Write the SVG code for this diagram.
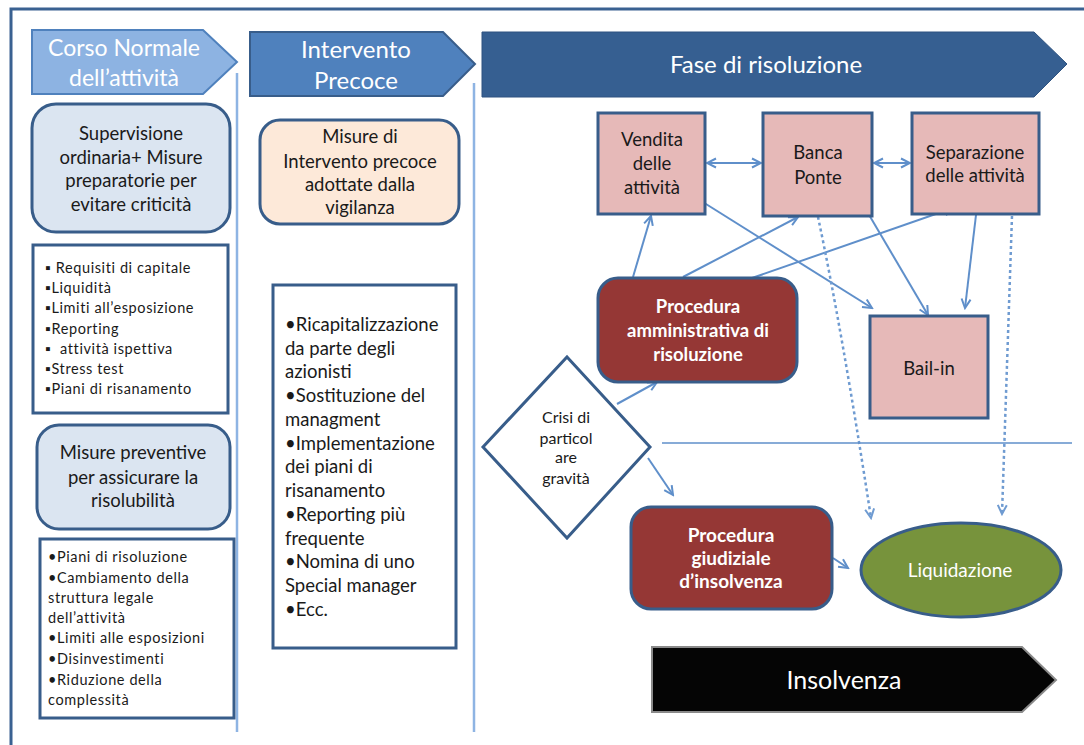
<svg xmlns="http://www.w3.org/2000/svg" width="1084" height="745" viewBox="0 0 1084 745">
<defs>
<style>
text{font-family:Lato,"Liberation Sans",sans-serif;fill:#1a1a1a}
.w{fill:#ffffff}
.c{text-anchor:middle}
.t17{font-size:18.5px}
.t13{font-size:14.5px;letter-spacing:0.6px}
.box{stroke:#385d8a;stroke-width:3}
.blue{fill:#dbe5f1}
.pink{fill:#e6b9b8}
.red{fill:#953735}
.conn{stroke:#5f8fca;stroke-width:2;fill:none}
.dot{stroke:#6f9bd1;stroke-width:2.5;fill:none;stroke-dasharray:3 3}
.sep{stroke:#8eb4e3;stroke-width:2.5;fill:none}
</style>
<marker id="ah" viewBox="0 0 12 12" markerWidth="12" markerHeight="12" refX="10" refY="6" orient="auto-start-reverse" markerUnits="userSpaceOnUse">
<path d="M1,1.5 L10,6 L1,10.5" fill="none" stroke="#5f8fca" stroke-width="2"/>
</marker>
<marker id="ahd" viewBox="0 0 12 12" markerWidth="12" markerHeight="12" refX="10" refY="6" orient="auto" markerUnits="userSpaceOnUse">
<path d="M1,1.5 L10,6 L1,10.5" fill="none" stroke="#6f9bd1" stroke-width="2"/>
</marker>
</defs>
<rect width="1084" height="745" fill="#ffffff"/>
<path d="M11,745 V9 H1084" fill="none" stroke="#3a6191" stroke-width="3"/>
<line class="sep" x1="237" y1="73" x2="237" y2="732"/>
<line class="sep" x1="474" y1="83" x2="474" y2="732"/>

<g id="hdr-corso">
<path d="M32,30 H203 L237,62 L203,94 H32 Z" fill="#8db3e2" stroke="#4f81bd" stroke-width="2"/>
<text class="w c" x="124" y="56" font-size="23">Corso Normale</text>
<text class="w c" x="124" y="86" font-size="23">dell’attività</text>
</g>
<g id="hdr-intervento">
<path d="M250,32 H443 L475,64 L443,96 H250 Z" fill="#4f81bd" stroke="#385d8a" stroke-width="2"/>
<text class="w c" x="356" y="58" font-size="24">Intervento</text>
<text class="w c" x="356" y="89" font-size="24">Precoce</text>
</g>
<g id="hdr-fase">
<path d="M482,32 H1034 L1067,64 L1034,97 H482 Z" fill="#365f91" stroke="#2f5380" stroke-width="1"/>
<text class="w c" x="766" y="73" font-size="24">Fase di risoluzione</text>
</g>

<g id="supervisione">
<rect class="box blue" x="32" y="104" width="198" height="128" rx="24"/>
<text class="c t17" x="131" y="140">Supervisione</text>
<text class="c t17" x="131" y="164">ordinaria+ Misure</text>
<text class="c t17" x="131" y="187">preparatorie per</text>
<text class="c t17" x="131" y="211">evitare criticità</text>
</g>
<g id="requisiti">
<rect class="box" x="33" y="245" width="195" height="168" fill="#ffffff"/>
<text class="t13" x="45" y="273">▪ Requisiti di capitale</text>
<text class="t13" x="45" y="293">▪Liquidità</text>
<text class="t13" x="45" y="313">▪Limiti all’esposizione</text>
<text class="t13" x="45" y="334">▪Reporting</text>
<text class="t13" x="45" y="354" xml:space="preserve">▪  attività ispettiva</text>
<text class="t13" x="45" y="374">▪Stress test</text>
<text class="t13" x="45" y="394">▪Piani di risanamento</text>
</g>
<g id="preventive">
<rect class="box blue" x="37" y="425" width="193" height="104" rx="22"/>
<text class="c t17" x="133" y="459">Misure preventive</text>
<text class="c t17" x="133" y="484">per assicurare la</text>
<text class="c t17" x="133" y="507">risolubilità</text>
</g>
<g id="piani">
<rect class="box" x="40" y="539" width="194" height="179" fill="#ffffff"/>
<text class="t13" x="48" y="562">•Piani di risoluzione</text>
<text class="t13" x="48" y="583">•Cambiamento della</text>
<text class="t13" x="48" y="603">struttura legale</text>
<text class="t13" x="48" y="623">dell’attività</text>
<text class="t13" x="48" y="643">•Limiti alle esposizioni</text>
<text class="t13" x="48" y="664">•Disinvestimenti</text>
<text class="t13" x="48" y="685">•Riduzione della</text>
<text class="t13" x="48" y="705">complessità</text>
</g>
<g id="misure-intervento">
<rect class="box" x="260" y="120" width="199" height="104" rx="20" fill="#fde9d9"/>
<text class="c t17" x="360" y="143">Misure di</text>
<text class="c t17" x="360" y="168">Intervento precoce</text>
<text class="c t17" x="360" y="191">adottate dalla</text>
<text class="c t17" x="360" y="214">vigilanza</text>
</g>
<g id="ricapitalizzazione" font-size="18.5">
<rect class="box" x="273" y="285" width="183" height="363" fill="#ffffff"/>
<text x="285" y="331">•Ricapitalizzazione</text>
<text x="285" y="355">da parte degli</text>
<text x="285" y="378">azionisti</text>
<text x="285" y="402">•Sostituzione del</text>
<text x="285" y="426">managment</text>
<text x="285" y="450">•Implementazione</text>
<text x="285" y="473">dei piani di</text>
<text x="285" y="497">risanamento</text>
<text x="285" y="521">•Reporting più</text>
<text x="285" y="545">frequente</text>
<text x="285" y="568">•Nomina di uno</text>
<text x="285" y="592">Special manager</text>
<text x="285" y="616">•Ecc.</text>
</g>

<g id="connectors">
<line class="conn" x1="707" y1="163" x2="761" y2="163" marker-start="url(#ah)" marker-end="url(#ah)"/>
<line class="conn" x1="874" y1="163" x2="910" y2="163" marker-start="url(#ah)" marker-end="url(#ah)"/>
<line class="conn" x1="633" y1="277" x2="651" y2="216" marker-end="url(#ah)"/>
<line class="conn" x1="683" y1="277" x2="798" y2="217" marker-end="url(#ah)"/>
<line class="conn" x1="752" y1="278" x2="953" y2="208" marker-end="url(#ah)"/>
<line class="conn" x1="698" y1="199" x2="872" y2="308" marker-end="url(#ah)"/>
<line class="conn" x1="865" y1="208" x2="928" y2="315" marker-end="url(#ah)"/>
<line class="conn" x1="976" y1="215" x2="965" y2="308" marker-end="url(#ah)"/>
<line class="conn" x1="617" y1="404" x2="657" y2="382" marker-end="url(#ah)"/>
<line class="conn" x1="648" y1="458" x2="673" y2="495" marker-end="url(#ah)"/>
<line class="conn" x1="833" y1="558" x2="848" y2="568" marker-end="url(#ah)"/>
<path class="dot" d="M818,217 Q842,330 871,518" marker-end="url(#ahd)"/>
<line class="dot" x1="1012" y1="216" x2="1002" y2="514" marker-end="url(#ahd)"/>
<line x1="662" y1="443" x2="1072" y2="443" stroke="#5f8fca" stroke-width="1.5"/>
</g>

<g id="vendita">
<rect class="box pink" x="598" y="113" width="107" height="101"/>
<text class="c t17" x="652" y="146">Vendita</text>
<text class="c t17" x="652" y="170">delle</text>
<text class="c t17" x="652" y="194">attività</text>
</g>
<g id="banca-ponte">
<rect class="box pink" x="763" y="113" width="109" height="103"/>
<text class="c t17" x="818" y="159">Banca</text>
<text class="c t17" x="818" y="184">Ponte</text>
</g>
<g id="separazione">
<rect class="box pink" x="912" y="113" width="127" height="101"/>
<text class="c t17" x="975" y="159">Separazione</text>
<text class="c t17" x="975" y="182">delle attività</text>
</g>
<g id="bail-in">
<rect class="box pink" x="870" y="316" width="118" height="102"/>
<text class="c t17" x="929" y="375">Bail-in</text>
</g>
<g id="procedura-amministrativa">
<rect class="box red" x="598" y="278" width="199" height="104" rx="20"/>
<text class="w c t17" x="698" y="313" font-weight="bold">Procedura</text>
<text class="w c t17" x="698" y="337" font-weight="bold">amministrativa di</text>
<text class="w c t17" x="698" y="361" font-weight="bold">risoluzione</text>
</g>
<g id="crisi">
<path class="box" d="M567,357 L650,447 L567,538 L483,447 Z" fill="#ffffff"/>
<text class="c" x="566" y="423" font-size="16">Crisi di</text>
<text class="c" x="566" y="444" font-size="16">particol</text>
<text class="c" x="566" y="463" font-size="16">are</text>
<text class="c" x="566" y="484" font-size="16">gravità</text>
</g>
<g id="procedura-giudiziale">
<rect class="box red" x="631" y="507" width="201" height="102" rx="20"/>
<text class="w c" x="731" y="542" font-size="19" font-weight="bold">Procedura</text>
<text class="w c" x="731" y="565" font-size="19" font-weight="bold">giudiziale</text>
<text class="w c" x="731" y="588" font-size="19" font-weight="bold">d’insolvenza</text>
</g>
<g id="liquidazione">
<ellipse class="box" cx="961" cy="570" rx="100" ry="47" fill="#77933c"/>
<text class="w c" x="960" y="577" font-size="19">Liquidazione</text>
</g>
<g id="insolvenza">
<path d="M652,647 H1022 L1056,680 L1022,712 H652 Z" fill="#050505" stroke="#8a8a8a" stroke-width="2"/>
<text class="w c" x="844" y="689" font-size="25">Insolvenza</text>
</g>
</svg>
